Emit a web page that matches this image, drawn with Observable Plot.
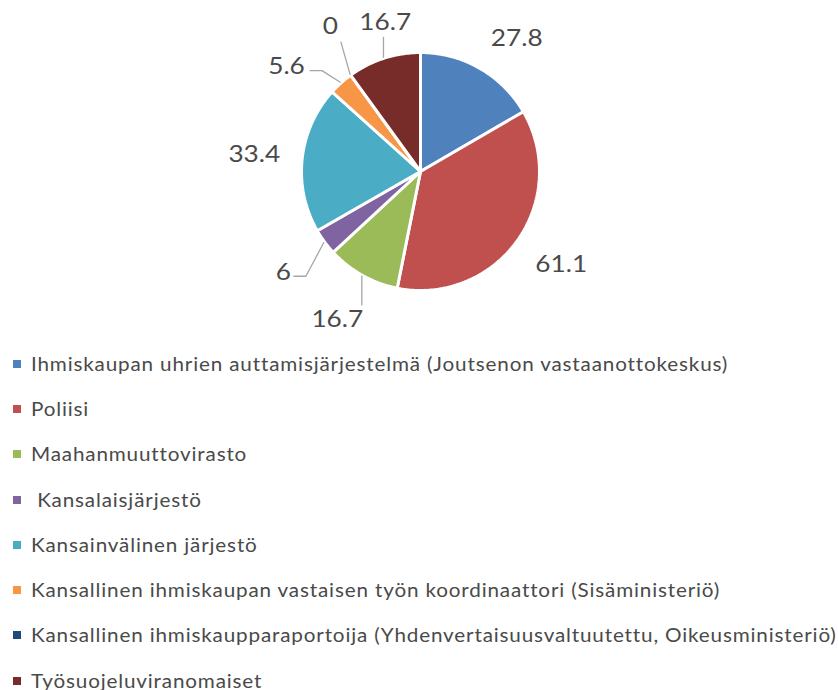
<!DOCTYPE html>
<html>
<head>
<meta charset="utf-8">
<script src="https://cdn.jsdelivr.net/npm/d3@7"></script>
<script src="https://cdn.jsdelivr.net/npm/@observablehq/plot@0.6"></script>
<style>
  html, body { margin: 0; padding: 0; background: #fff; overflow: hidden; }
  #wrap { width: 838px; height: 690px; overflow: hidden; position: relative; }
  #legend { font-family: Lato, "Open Sans", sans-serif; color: #4a4a4a; }
  .row { height: 45.3px; display: flex; align-items: center; white-space: pre; }
  .sw { width: 8px; height: 8px; margin-left: 13px; margin-right: 10px; flex: none; }
  .lt { font-size: 18.5px; letter-spacing: 0.75px; display: inline-block; transform: scaleX(1.117); transform-origin: left center; }
</style>
</head>
<body>
<div id="wrap"><div id="chart"></div><div id="legend"></div></div>
<script>
const categories = [
  "Ihmiskaupan uhrien auttamisjärjestelmä (Joutsenon vastaanottokeskus)",
  "Poliisi",
  "Maahanmuuttovirasto",
  " Kansalaisjärjestö",
  "Kansainvälinen järjestö",
  "Kansallinen ihmiskaupan vastaisen työn koordinaattori (Sisäministeriö)",
  "Kansallinen ihmiskaupparaportoija (Yhdenvertaisuusvaltuutettu, Oikeusministeriö)",
  "Työsuojeluviranomaiset"
];
const values = [27.8, 61.1, 16.7, 6, 33.4, 5.6, 0, 16.7];
const valueLabels = ["27.8", "61.1", "16.7", "6", "33.4", "5.6", "0", "16.7"];
const colors = ["#4F81BD", "#C0504D", "#9BBB59", "#8064A2", "#4BACC6", "#F79646", "#1F497D", "#772C2A"];

// layout
const W = 838, H = 341, cx = 420, cy = 171, R = 119;
const labelFont = 23, labelStretch = 1.14;
const bigAnchorR = R + 22;      // outside-end anchor for large slices
const smallR = R * 1.43;        // moved labels (with leader lines)
const minGap = 20 * Math.PI / 180;
const topPad = 11;
const textColor = "#4a4a4a";

const arcs = d3.pie().sort(null).value(d => d)(values);

// slice outlines (unit radius, screen-down y)
const slicePts = [];
arcs.forEach((a, i) => {
  const name = categories[i];
  slicePts.push({name, x: 0, y: 0});
  const n = Math.max(1, Math.ceil((a.endAngle - a.startAngle) / (Math.PI / 180)));
  for (let k = 0; k <= n; k++) {
    const t = a.startAngle + (a.endAngle - a.startAngle) * k / n;
    slicePts.push({name, x: Math.sin(t), y: -Math.cos(t)});
  }
  slicePts.push({name, x: 0, y: 0});
});

// label placement in pixel offsets from the centre
const total = d3.sum(values);
const clamp1 = t => Math.max(-1, Math.min(1, 2 * t));
const labs = arcs.map((a, i) => {
  const mid = (a.startAngle + a.endAngle) / 2;
  const text = valueLabels[i];
  return {i, mid, ang: mid, text, w: text.length * 13, h: 22, small: a.value / total < 0.12};
});
// spread the moved (small) labels apart in angle
const smalls = labs.filter(l => l.small).sort((a, b) => a.mid - b.mid);
for (let it = 0; it < 500; it++) {
  let moved = false;
  for (let k = 0; k + 1 < smalls.length; k++) {
    const A = smalls[k], B = smalls[k + 1];
    const d = minGap - (B.ang - A.ang);
    if (d > 1e-4) { A.ang -= d / 2; B.ang += d / 2; moved = true; }
  }
  if (!moved) break;
}
labs.forEach(l => {
  const s = Math.sin(l.ang), c = Math.cos(l.ang);
  if (l.small) {
    l.px = smallR * s; l.py = -smallR * c;
  } else {
    l.px = bigAnchorR * s + clamp1(s) * l.w / 2;
    l.py = -bigAnchorR * c + clamp1(-c) * l.h / 2;
  }
  l.py = Math.max(l.py, -cy + topPad + l.h / 2); // keep inside chart area
});
const labelData = labs.map(l => ({...l, x: l.px / R, y: l.py / R}));

// leader lines: from the slice edge to the moved label (elbow for side labels)
const leaderPts = [];
labelData.filter(l => l.small).forEach(l => {
  const ax = (R + 1) * Math.sin(l.mid), ay = -(R + 1) * Math.cos(l.mid);
  const pad = 4;
  const pts = [[ax, ay]];
  if (Math.abs(Math.sin(l.ang)) > 0.7) {
    const side = ax > l.px ? 1 : -1;
    const ex = l.px + side * (l.w / 2 + pad), ey = l.py + 4;
    pts.push([ex + side * 12, ey], [ex, ey]);
  } else {
    const ex = Math.max(l.px - l.w / 2 - pad, Math.min(l.px + l.w / 2 + pad, ax));
    const ey = ay > l.py ? l.py + l.h / 2 + pad : l.py - l.h / 2 - pad;
    pts.push([ex, ey]);
  }
  pts.forEach(([px, py]) => leaderPts.push({id: l.i, x: px / R, y: py / R}));
});

const chart = Plot.plot({
  width: W, height: H,
  margin: 0,
  x: {domain: [-cx / R, (W - cx) / R], range: [0, W], axis: null},
  y: {domain: [-cy / R, (H - cy) / R], range: [0, H], axis: null},
  color: {domain: categories, range: colors},
  style: {fontFamily: "Lato, 'Open Sans', sans-serif", background: "white"},
  marks: [
    Plot.line(slicePts, {x: "x", y: "y", z: "name", fill: "name", stroke: "white", strokeWidth: 3, strokeLinejoin: "miter"}),
    Plot.line(leaderPts, {x: "x", y: "y", z: "id", stroke: "#a6a6a6", strokeWidth: 1.3, strokeLinejoin: "miter"}),
    Plot.text(labelData, {x: "x", y: "y", text: "text", fontSize: labelFont, fill: textColor})
  ]
});
document.getElementById("chart").appendChild(chart);

// widen the label glyphs like the reference's stretched rendering
chart.querySelectorAll("text").forEach(el => {
  const bb = el.getBBox();
  const c = bb.x + bb.width / 2;
  const prev = el.getAttribute("transform") || "";
  el.setAttribute("transform", `${prev} translate(${c},0) scale(${labelStretch},1) translate(${-c},0)`);
});

const legend = document.getElementById("legend");
categories.forEach((c, i) => {
  const row = document.createElement("div");
  row.className = "row";
  const sw = document.createElement("span");
  sw.className = "sw"; sw.style.background = colors[i];
  const t = document.createElement("span");
  t.className = "lt"; t.textContent = c;
  row.appendChild(sw); row.appendChild(t);
  legend.appendChild(row);
});
</script>
</body>
</html>
